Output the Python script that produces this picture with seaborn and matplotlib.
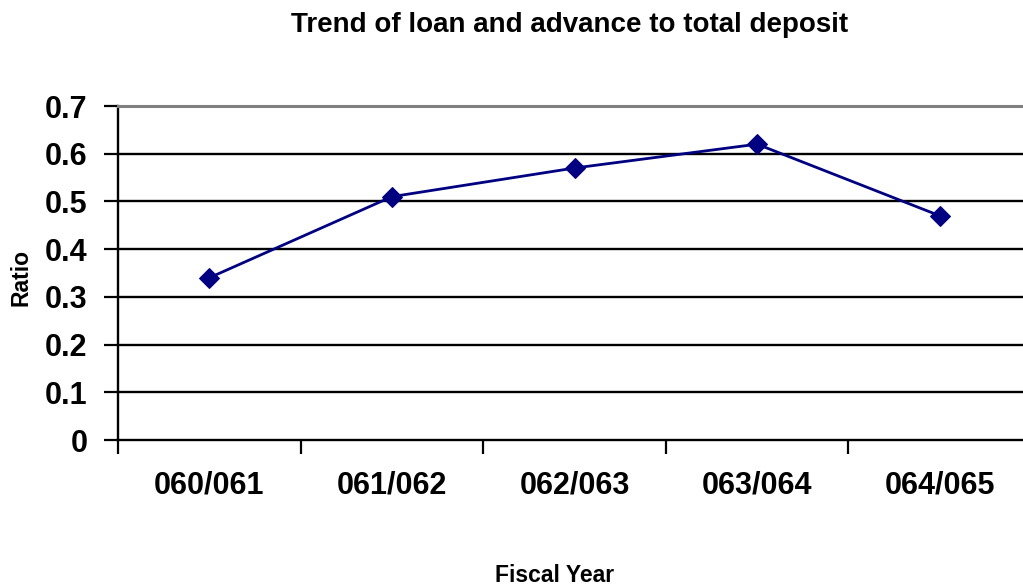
import matplotlib
matplotlib.use("Agg")
import matplotlib.pyplot as plt
import seaborn as sns
import pandas as pd
from matplotlib.ticker import FixedLocator, NullFormatter

sns.set_theme(style="white")
plt.rcParams["font.family"] = ["Liberation Sans", "DejaVu Sans"]
plt.rcParams["text.color"] = "black"
plt.rcParams["xtick.color"] = "black"
plt.rcParams["ytick.color"] = "black"
plt.rcParams["xtick.labelcolor"] = "black"
plt.rcParams["ytick.labelcolor"] = "black"

# Fiscal years and the loan/advance to total deposit ratio
years = ["060/061", "061/062", "062/063", "063/064", "064/065"]
ratio = [0.34, 0.51, 0.57, 0.62, 0.47]
y_ticks = [0, 0.1, 0.2, 0.3, 0.4, 0.5, 0.6, 0.7]

df = pd.DataFrame({"pos": range(len(years)), "year": years, "ratio": ratio})

W, H = 1023, 587
fig = plt.figure(figsize=(W / 100, H / 100), dpi=100)
ax = fig.add_axes([118 / W, 1 - 440 / H, (1031 - 118) / W, (440 - 106) / H])

sns.lineplot(data=df, x="pos", y="ratio", ax=ax, color="#000080",
             linewidth=2.0, marker="D", markersize=10.5,
             markeredgecolor="#000080", markerfacecolor="#000080")

ax.set_xlim(-0.5, len(years) - 0.5)
ax.set_ylim(0, 0.7)

# y axis ticks / gridlines
ax.set_yticks(y_ticks)
ax.set_yticklabels(["0" if v == 0 else f"{v:.1f}" for v in y_ticks],
                   fontsize=22, fontweight="bold", color="black")
for v in y_ticks[1:-1]:
    ax.axhline(v, color="black", linewidth=1.7, zorder=1)

# category boundaries as major ticks, labels at centres
bounds = [i - 0.5 for i in range(len(years) + 1)]
ax.xaxis.set_major_locator(FixedLocator(bounds))
ax.xaxis.set_major_formatter(NullFormatter())
ax.xaxis.set_minor_locator(FixedLocator(list(range(len(years)))))
ax.set_xticklabels(years, minor=True, fontsize=22, fontweight="bold",
                   color="black")
ax.tick_params(axis="x", which="minor", length=0, pad=22)
ax.tick_params(axis="x", which="major", length=10, width=1.6,
               color="black", direction="out", bottom=True)
ax.tick_params(axis="y", length=10, width=1.6, color="black",
               direction="out", left=True, pad=12)

for side in ["left", "bottom"]:
    ax.spines[side].set_color("black")
    ax.spines[side].set_linewidth(1.7)
ax.spines["top"].set_color("#808080")
ax.spines["top"].set_linewidth(2.2)
ax.spines["right"].set_visible(False)

ax.set_xlabel("")
ax.set_ylabel("")
fig.text(21 / W, 1 - 277 / H, "Ratio", rotation=90, fontsize=16.5,
         fontweight="bold", ha="center", va="center")
fig.text(555 / W, 1 - 575 / H, "Fiscal Year", fontsize=16.5,
         fontweight="bold", ha="center", va="center")
fig.text(570 / W, 1 - 25 / H, "Trend of loan and advance to total deposit",
         fontsize=20, fontweight="bold", ha="center", va="center")

fig.savefig("out.png", dpi=100)
